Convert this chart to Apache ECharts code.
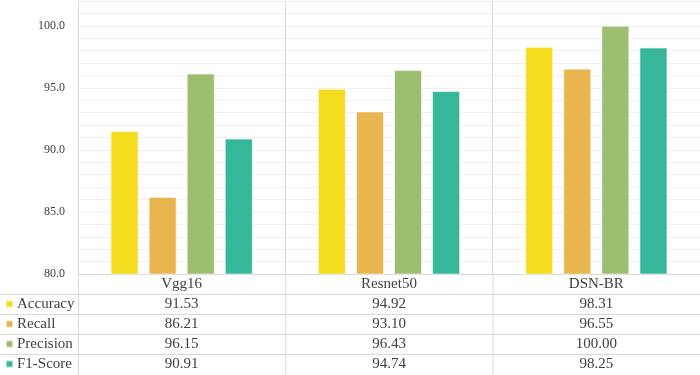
<!DOCTYPE html>
<html>
<head>
<meta charset="utf-8">
<script src="https://cdn.jsdelivr.net/npm/echarts@6/dist/echarts.min.js"></script>
<style>
  html, body { margin: 0; padding: 0; background: #fff; }
  #main { width: 700px; height: 375px; }
</style>
</head>
<body>
<div id="main"></div>
<script>
// data
var categories = ['Vgg16', 'Resnet50', 'DSN-BR'];
var seriesNames = ['Accuracy', 'Recall', 'Precision', 'F1-Score'];
var accuracy = [91.53, 94.92, 98.31];
var recall = [86.21, 93.10, 96.55];
var precision = [96.15, 96.43, 100.00];
var f1Score = [90.91, 94.74, 98.25];
var colors = ['#F5DC1F', '#E8B54E', '#9BBF6F', '#37B799'];

var rows = [accuracy, recall, precision, f1Score];
var font = '"Liberation Serif", "Times New Roman", serif';
var lineColor = '#d9d9d9';

// layout
var gridLeft = 78, gridTop = 1, plotBottom = 274, rowH = 20, W = 700, H = 375;

var myChart = echarts.init(document.getElementById('main'));

var xAxes = [{
  type: 'category',
  data: categories,
  position: 'bottom',
  axisLine: { show: true, lineStyle: { color: lineColor } },
  axisTick: { show: false },
  splitLine: { show: true, interval: 0, lineStyle: { color: lineColor } },
  axisLabel: { margin: 3, fontFamily: font, fontSize: 15, color: '#404040', interval: 0 }
}];
rows.forEach(function (r, k) {
  xAxes.push({
    type: 'category',
    data: categories,
    position: 'bottom',
    offset: rowH * (k + 1),
    axisLine: { show: false },
    axisTick: { show: false },
    axisLabel: {
      margin: 3, fontFamily: font, fontSize: 15, color: '#404040', interval: 0,
      formatter: function (v, i) { return r[i].toFixed(2); }
    }
  });
});

// table lines
var graphics = [];
for (var k = 1; k <= rows.length; k++) {
  graphics.push({
    type: 'line', silent: true,
    shape: { x1: 0, y1: plotBottom + rowH * k + 0.5, x2: W, y2: plotBottom + rowH * k + 0.5 },
    style: { stroke: lineColor, lineWidth: 1 }
  });
}
var colW = (W - gridLeft) / categories.length;
for (var c = 0; c < categories.length; c++) {
  graphics.push({
    type: 'line', silent: true,
    shape: { x1: gridLeft + colW * c + 0.5, y1: plotBottom, x2: gridLeft + colW * c + 0.5, y2: H },
    style: { stroke: lineColor, lineWidth: 1 }
  });
}

myChart.setOption({
  animation: false,
  color: colors,
  legend: {
    orient: 'vertical',
    left: 5,
    top: plotBottom + rowH,
    padding: 0,
    itemGap: 0,
    itemWidth: 7,
    itemHeight: 7,
    icon: 'rect',
    data: seriesNames,
    selectedMode: false,
    textStyle: { fontFamily: font, fontSize: 15, color: '#404040', lineHeight: rowH, padding: [0, 0, 0, -1] }
  },
  grid: { left: gridLeft, right: 0, top: gridTop, bottom: H - plotBottom, containLabel: false },
  xAxis: xAxes,
  yAxis: {
    type: 'value',
    min: 80,
    max: 102,
    interval: 1,
    axisLine: { show: false },
    axisTick: { show: false },
    splitLine: { lineStyle: { color: '#f0f0f0' } },
    axisLabel: {
      margin: 13, fontFamily: font, fontSize: 12, color: '#404040',
      formatter: function (v) { return v % 5 === 0 ? v.toFixed(1) : ''; }
    }
  },
  series: seriesNames.map(function (name, k) {
    return {
      name: name,
      type: 'bar',
      xAxisIndex: 0,
      data: rows[k],
      barWidth: 28,
      barGap: '36%',
      itemStyle: { borderColor: 'rgba(255,255,255,0.55)', borderWidth: 1 }
    };
  }),
  graphic: graphics
});
</script>
</body>
</html>
